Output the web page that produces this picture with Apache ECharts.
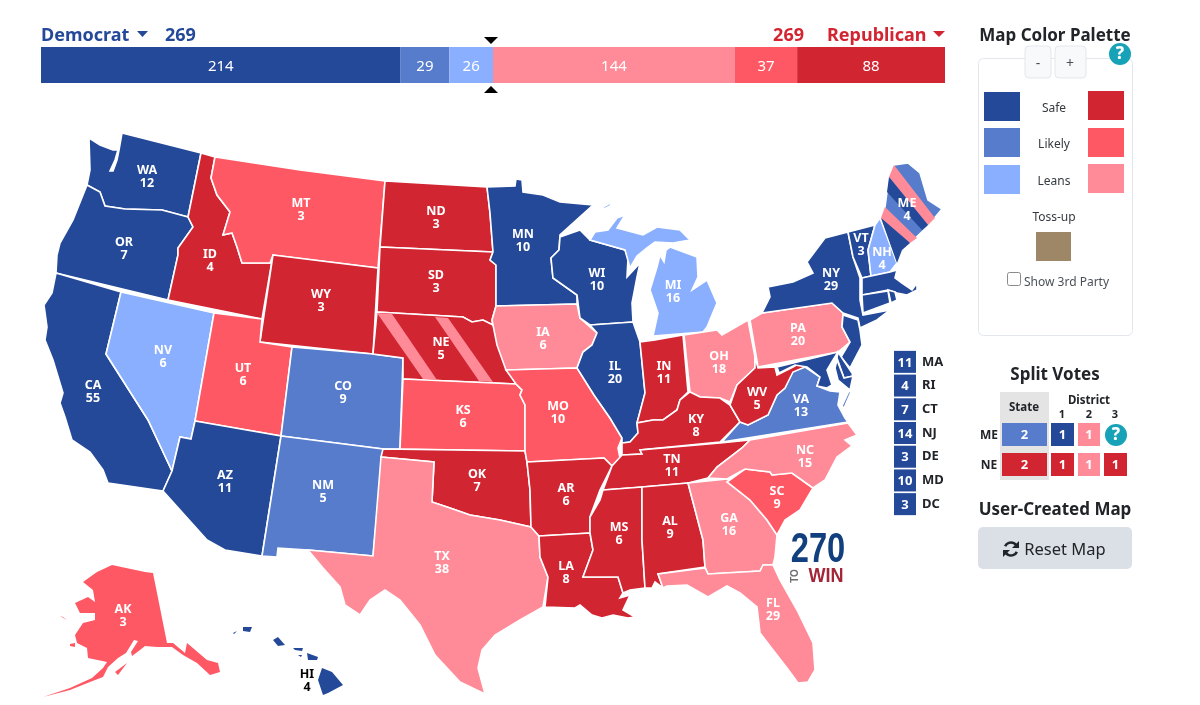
<!DOCTYPE html>
<html>
<head>
<meta charset="utf-8">
<title>270toWin map</title>
<script src="https://cdn.jsdelivr.net/npm/echarts@6/dist/echarts.min.js"></script>
<style>
  html, body { margin: 0; padding: 0; background: #fff; }
  #chart { width: 1200px; height: 705px; }
</style>
</head>
<body>
<div id="chart"></div>
<script>
// top bar
const barNames = ["Safe D", "Likely D", "Leans D", "Leans R", "Likely R", "Safe R"];
const barRatings = ["D3", "D2", "D1", "R1", "R2", "R3"];
const barValues = [214, 29, 26, 144, 37, 88];
const demTotal = 269;
const repTotal = 269;

// states
const stateCodes = ["WA","OR","CA","NV","ID","MT","WY","UT","AZ","CO","NM","ND","SD","NE","KS","OK","TX","MN","IA","MO","AR","LA","WI","IL","MI","IN","OH","KY","TN","MS","AL","GA","FL","SC","NC","VA","WV","PA","NY","VT","NH","ME","AK","HI","MA","RI","CT","NJ","DE","MD"];
const stateVotes = [12,7,55,6,4,3,3,6,11,9,5,3,3,5,6,7,38,10,6,10,6,8,10,20,16,11,18,8,11,6,9,16,29,9,15,13,5,20,29,3,4,4,3,4,11,4,7,14,3,10];
const stateRatings = ["D3","D3","D3","D1","R3","R2","R3","R2","D3","D2","D2","R3","R3","R3","R2","R3","R1","D3","R1","R2","R3","R3","D3","D3","D1","R3","R1","R3","R3","R3","R3","R1","R1","R2","R1","D2","R3","R1","D3","D3","D1","D2","R2","D3","D3","D3","D3","D3","D3","D3"];

// side list
const smallCodes = ["MA","RI","CT","NJ","DE","MD","DC"];
const smallVotes = [11,4,7,14,3,10,3];
const smallRatings = ["D3","D3","D3","D3","D3","D3","D3"];

// split votes
const splitMe = ["D2","D3","R1",null];
const splitMeVotes = [2,1,1,null];
const splitNe = ["R3","R3","R1","R3"];
const splitNeVotes = [2,1,1,1];

// district stripes over ME and NE
const stripeCodes = ["ME-a","ME-b","ME-c","ME-d","NE-a","NE-b"];
const stripeRatings = ["R1","D3","R1","D3","R1","R1"];

const colors = {
  D3: "#244999", D2: "#577ccc", D1: "#8aafff",
  R1: "#ff8b98", R2: "#ff5865", R3: "#d22532", T: "#9e8767",
};

// outlines, in page pixels
const shapes = {
  WA: [[[122,133],[201,153],[188,217],[162,210],[125,209],[105,206],[100,192],[87,185],[90,170],[89,138],[100,145],[113,150],[118,150],[115,160],[110,171],[113,171],[117,160],[119,150]]],
  OR: [[[87,185],[100,192],[105,206],[125,209],[162,210],[188,217],[193,227],[178,248],[178,255],[168,300],[56,273],[57,255],[60,243],[73,220]]],
  CA: [[[56,273],[121,292],[106,354],[148,420],[172,471],[163,491],[108,483],[103,470],[90,452],[72,440],[65,417],[60,403],[63,393],[53,360],[45,340],[47,327],[44,305],[52,293]]],
  NV: [[[121,292],[214,313],[195,421],[191,439],[180,437],[172,471],[148,420],[106,354]]],
  ID: [[[201,153],[215,157],[211,178],[217,195],[230,212],[223,235],[232,233],[237,247],[242,263],[270,263],[273,255],[262,319],[168,300],[178,255],[178,248],[193,227],[188,217]]],
  MT: [[[215,157],[300,170],[385,181],[378,268],[273,255],[270,263],[242,263],[237,247],[232,233],[223,235],[230,212],[217,195],[211,178]]],
  WY: [[[273,255],[378,268],[373,354],[260,342]]],
  UT: [[[214,313],[262,319],[260,342],[292,347],[281,436],[195,421]]],
  AZ: [[[195,421],[281,436],[262,556],[225,550],[207,540],[163,491],[172,471],[180,437],[191,439]]],
  CO: [[[292,347],[373,354],[403,358],[400,449],[383,449],[281,436]]],
  NM: [[[281,436],[383,449],[373,556],[308,550],[278,548],[277,557],[262,556]]],
  ND: [[[385,181],[487,187],[490,213],[493,252],[380,247]]],
  SD: [[[380,247],[493,252],[490,260],[496,265],[496,306],[492,320],[493,325],[483,320],[472,322],[463,317],[377,312]]],
  NE: [[[377,312],[463,317],[472,322],[483,320],[493,325],[503,350],[508,370],[516,384],[403,379],[403,358],[373,354]]],
  KS: [[[403,379],[516,384],[522,390],[520,395],[525,405],[525,451],[400,449]]],
  OK: [[[383,449],[525,451],[527,462],[530,490],[531,527],[500,520],[470,515],[450,508],[432,502],[434,462],[381,457]]],
  TX: [[[381,457],[434,462],[432,502],[450,508],[470,515],[500,520],[531,527],[539,536],[540,557],[548,577],[543,607],[520,620],[495,635],[482,650],[478,668],[485,694],[460,682],[435,655],[420,625],[400,600],[385,590],[370,600],[360,615],[345,605],[340,587],[323,568],[308,550],[373,556]]],
  MN: [[[487,187],[515,186],[516,179],[522,180],[523,192],[543,195],[560,202],[593,205],[560,235],[559,250],[551,258],[553,278],[577,295],[577,304],[496,306],[496,265],[490,260],[493,252],[490,213]]],
  IA: [[[496,306],[577,304],[580,318],[590,327],[597,333],[592,345],[583,352],[577,368],[506,370],[497,345],[493,325],[492,320]]],
  MO: [[[506,370],[577,368],[594,395],[610,418],[622,438],[618,448],[620,458],[612,466],[604,458],[527,462],[525,451],[525,405],[520,395],[522,390],[516,384]]],
  AR: [[[527,462],[604,458],[612,466],[600,490],[590,517],[590,533],[539,536],[531,527],[530,490]]],
  LA: [[[539,536],[590,533],[593,550],[583,577],[618,577],[623,593],[620,598],[630,595],[623,610],[635,617],[628,618],[613,615],[602,618],[592,615],[580,605],[575,608],[545,607],[548,577],[540,557]]],
  WI: [[[560,237],[580,230],[590,240],[625,250],[628,258],[627,277],[640,263],[637,277],[632,303],[633,322],[590,325],[580,318],[577,295],[553,278],[551,258],[559,250]]],
  IL: [[[590,325],[633,322],[640,342],[645,393],[637,423],[638,433],[630,442],[622,443],[622,438],[610,418],[594,395],[577,368],[583,352],[592,345],[597,333]]],
  MI: [[[590,240],[595,232],[608,230],[617,218],[625,215],[617,228],[643,235],[657,227],[680,230],[690,240],[673,243],[655,242],[647,248],[637,256],[630,268],[625,250]],
       [[670,247],[697,257],[698,277],[692,290],[707,280],[717,303],[707,327],[703,332],[653,336],[658,313],[650,290],[657,267],[660,255],[664,262],[666,250]],
       [[603,207],[612,202],[610,206],[604,209]]],
  IN: [[[640,342],[655,340],[683,335],[688,392],[680,400],[677,410],[663,420],[653,420],[637,423],[645,393]]],
  OH: [[[684,335],[717,330],[722,335],[748,320],[755,357],[755,368],[737,385],[730,402],[720,398],[700,397],[690,392]]],
  KY: [[[622,443],[630,442],[638,433],[637,423],[653,420],[663,420],[677,410],[680,400],[690,392],[700,397],[720,398],[730,405],[740,422],[720,442],[640,450],[642,454],[622,455]]],
  TN: [[[622,455],[642,454],[640,450],[720,443],[750,440],[742,448],[717,467],[708,478],[688,483],[642,487],[603,490],[612,466]]],
  MS: [[[603,490],[642,487],[642,540],[645,588],[630,590],[623,593],[618,577],[583,577],[593,550],[590,533],[590,517],[600,500]]],
  AL: [[[642,487],[688,483],[703,540],[705,567],[658,574],[663,588],[655,582],[652,588],[645,588],[642,540]]],
  GA: [[[688,483],[727,479],[750,500],[767,520],[777,535],[775,557],[773,565],[763,565],[760,571],[708,574],[705,567],[703,540]]],
  FL: [[[658,574],[705,568],[708,574],[760,571],[763,565],[773,565],[780,580],[797,610],[813,643],[815,670],[808,682],[798,683],[787,668],[773,650],[760,633],[757,607],[740,593],[727,586],[708,597],[687,585],[667,586],[663,588]]],
  SC: [[[727,482],[745,469],[770,472],[772,475],[792,473],[813,488],[800,510],[785,520],[777,535],[767,520],[750,500]]],
  NC: [[[750,440],[848,423],[857,435],[845,440],[852,446],[837,457],[825,480],[813,488],[792,473],[772,475],[770,472],[745,469],[727,479],[708,478],[717,467],[742,448]]],
  VA: [[[722,442],[740,422],[748,425],[768,415],[777,395],[785,388],[793,370],[805,367],[820,377],[817,386],[830,391],[840,392],[838,405],[845,418],[848,422]],
       [[849,391],[851,392],[844,408],[842,406]]],
  WV: [[[755,357],[758,368],[775,367],[777,375],[793,367],[800,363],[805,367],[793,372],[785,388],[777,395],[768,415],[748,425],[740,422],[730,405],[737,385],[755,368]]],
  PA: [[[762,313],[832,303],[843,313],[842,327],[850,342],[838,352],[758,367],[750,320]]],
  NY: [[[825,238],[848,232],[853,257],[860,278],[860,300],[863,315],[890,310],[877,320],[860,328],[858,318],[843,313],[832,303],[762,313],[770,297],[768,287],[793,282],[813,273],[807,262]]],
  VT: [[[848,232],[875,225],[868,250],[871,276],[862,278],[853,257]]],
  NH: [[[875,225],[880,218],[897,263],[890,272],[871,276],[868,250]]],
  ME: [[[894,165],[908,163],[920,173],[928,200],[942,209],[927,227],[910,243],[902,250],[897,263],[881,218],[885,207],[887,192],[889,177]]],
  AK: [[[112,565],[145,572],[153,573],[167,643],[173,643],[185,653],[187,643],[207,660],[218,663],[220,672],[210,675],[197,663],[183,655],[172,647],[157,647],[145,646],[140,650],[132,656],[131,652],[138,641],[134,640],[126,653],[118,658],[108,667],[103,677],[90,682],[70,690],[43,697],[70,688],[92,678],[103,668],[107,662],[88,658],[87,648],[77,643],[75,635],[83,623],[95,620],[95,613],[80,613],[75,603],[88,597],[95,602],[93,590],[83,582],[97,572]],
       [[115,672],[127,663],[118,675]],
       [[70,644],[75,643],[75,647],[70,646]],
       [[60,616],[67,620],[63,617]]],
  HI: [[[322,668],[332,672],[343,685],[328,693],[323,695],[318,680]],
       [[307,653],[318,657],[317,660],[308,660]],
       [[293,648],[303,648],[302,651],[295,650]],
       [[298,655],[302,655],[301,657]],
       [[278,637],[285,645],[278,646],[273,640]],
       [[243,627],[252,627],[250,632],[243,631]],
       [[233,633],[237,631],[234,634]]],
  MA: [[[862,278],[871,276],[890,272],[897,270],[895,278],[902,283],[912,290],[917,283],[917,290],[907,295],[897,293],[888,290],[862,295]],
       [[915,297],[920,296],[919,298]]],
  RI: [[[888,290],[895,292],[897,300],[891,303]]],
  CT: [[[862,295],[888,291],[890,303],[863,313]]],
  NJ: [[[843,315],[858,320],[860,330],[862,345],[850,368],[841,357],[850,342],[842,327]]],
  DE: [[[838,352],[852,373],[853,376],[844,378],[837,358]]],
  MD: [[[777,367],[838,352],[833,360],[827,370],[832,385],[827,388],[817,386],[820,377],[807,367],[795,365],[779,373]],
       [[837,360],[844,378],[853,376],[850,390],[838,380],[835,368]]],
  "ME-a": [[[894,165],[935,218],[928,225],[889,177]]],
  "ME-b": [[[889,177],[928,225],[922,230],[887,192]]],
  "ME-c": [[[885,207],[917,238],[910,243],[881,218]]],
  "ME-d": [[[881,218],[910,243],[902,250],[897,263]]],
  "NE-a": [[[377,313],[392,314],[437,380],[423,379]]],
  "NE-b": [[[435,317],[448,318],[493,382],[479,381]]],
};

// where the state label sits
const labelSpots = {
  WA:[147,177],OR:[124,249],CA:[93,392],NV:[163,357],ID:[210,261],MT:[301,210],WY:[321,301],UT:[243,375],AZ:[225,482],CO:[343,393],NM:[323,492],
  ND:[436,218],SD:[436,282],NE:[441,349],KS:[463,417],OK:[477,481],TX:[442,563],MN:[523,241],IA:[543,339],MO:[558,413],AR:[566,495],LA:[566,573],
  WI:[597,280],IL:[615,373],MI:[673,292],IN:[664,373],OH:[719,363],KY:[696,426],TN:[672,466],MS:[619,534],AL:[670,528],GA:[729,525],FL:[773,610],
  SC:[777,498],NC:[805,457],VA:[801,406],WV:[757,399],PA:[798,335],NY:[831,280],VT:[861,245],NH:[882,259],ME:[907,210],AK:[123,616],HI:[307,681],
};

// no neighbours, so their small islands can go without the white edge
const borderless = ["AK", "HI"];

const FONT = '"Noto Sans", sans-serif';

function buildGeoJson() {
  const features = [...stateCodes, ...stripeCodes].map((code) => {
    const spot = labelSpots[code];
    return {
      type: "Feature",
      properties: { name: code, cp: spot ? [spot[0], -spot[1]] : undefined },
      geometry: {
        type: "MultiPolygon",
        coordinates: shapes[code].map((ring) => [ring.map((p) => [p[0], -p[1]])]),
      },
    };
  });
  return { type: "FeatureCollection", features };
}

function buildMapData() {
  const data = stateCodes.map((code, i) => {
    const itemStyle = { areaColor: colors[stateRatings[i]] };
    if (borderless.includes(code)) itemStyle.borderWidth = 0;
    return {
      name: code,
      value: stateVotes[i],
      itemStyle,
      label: { show: !!labelSpots[code], color: code === "HI" ? "#000" : "#fff" },
    };
  });
  stripeCodes.forEach((code, i) => {
    data.push({
      name: code,
      value: 1,
      itemStyle: { areaColor: colors[stripeRatings[i]], borderWidth: 0 },
      label: { show: false },
    });
  });
  return data;
}

function text(str, x, y, size, weight, fill, align) {
  return {
    type: "text",
    style: {
      text: str, x, y: y + 1.5, fill,
      font: `${weight} ${size}px ${FONT}`,
      textAlign: align || "center",
      textVerticalAlign: "middle",
    },
  };
}

function box(x, y, w, h, fill, r, stroke) {
  return { type: "rect", shape: { x, y, width: w, height: h, r: r || 0 }, style: { fill, stroke: stroke || null } };
}

function help(x, y) {
  return [
    { type: "circle", shape: { cx: x, cy: y, r: 11 }, style: { fill: "#17a2b8" } },
    text("?", x, y - 1, 17, 800, "#fff"),
  ];
}

function tri(x0, x1, yBase, yTip, fill) {
  return { type: "polygon", shape: { points: [[x0, yBase], [x1, yBase], [(x0 + x1) / 2, yTip]] }, style: { fill } };
}

function voteCell(x, y, w, rating, votes) {
  return [box(x, y, w, 23, colors[rating]), text(String(votes), x + w / 2, y + 11, 13, 700, "#fff")];
}

function logoText(str, x, y, scaleX, font, fill, rotation) {
  return {
    type: "text", x, y, scaleX, rotation: rotation || 0,
    style: { text: str, x: 0, y: 0, fill, font, textAlign: "center", textVerticalAlign: "middle" },
  };
}

// the two-arrow reset glyph
function resetIcon(cx, cy) {
  const arc = (start, end) => ({
    type: "arc",
    shape: { cx, cy, r: 6.5, startAngle: start, endAngle: end },
    style: { fill: null, stroke: "#212529", lineWidth: 2.6 },
  });
  return [
    arc(-2.7, -0.2),
    arc(0.45, 2.95),
    { type: "polygon", shape: { points: [[cx + 8, cy - 8], [cx + 8, cy - 1], [cx + 1, cy - 1]] }, style: { fill: "#212529" } },
    { type: "polygon", shape: { points: [[cx - 8, cy + 8], [cx - 8, cy + 1], [cx - 1, cy + 1]] }, style: { fill: "#212529" } },
  ];
}

function sideGraphics() {
  const els = [
    // header
    text("Democrat", 41, 34, 18, 700, colors.D3, "left"),
    tri(137, 148, 31, 37, colors.D3),
    text(String(demTotal), 165, 34, 18, 700, colors.D3, "left"),
    text(String(repTotal), 804, 34, 18, 700, colors.R3, "right"),
    text("Republican", 827, 34, 18, 700, colors.R3, "left"),
    tri(933, 945, 31, 37, colors.R3),
    tri(484, 498, 37, 44, "#000"),
    tri(484, 498, 93, 86, "#000"),

    // palette panel
    text("Map Color Palette", 1055, 35, 17, 700, "#212529"),
    box(978.5, 58.5, 154, 277, "#fff", 5, "#e3e7ec"),
    box(1025, 46, 26, 32, "#f8f9fa", 4, "#e3e7ec"),
    box(1055, 46, 31, 32, "#f8f9fa", 4, "#e3e7ec"),
    text("-", 1038, 63, 14, 400, "#495057"),
    text("+", 1070, 63, 14, 400, "#495057"),
    ...help(1120, 54),
    box(984, 92, 36, 29, colors.D3),
    box(1088, 91, 36, 29, colors.R3),
    box(984, 128, 36, 29, colors.D2),
    box(1088, 128, 36, 29, colors.R2),
    box(984, 165, 36, 29, colors.D1),
    box(1088, 164, 36, 29, colors.R1),
    text("Safe", 1054, 107, 12, 400, "#343a40"),
    text("Likely", 1054, 143, 12, 400, "#343a40"),
    text("Leans", 1054, 180, 12, 400, "#343a40"),
    text("Toss-up", 1054, 216, 12, 400, "#343a40"),
    box(1036, 232, 35, 29, colors.T),
    box(1007.5, 272.5, 13, 13, "#fff", 2, "#8a8a8a"),
    text("Show 3rd Party", 1024, 281, 12, 400, "#495057", "left"),

    // split votes
    text("Split Votes", 1055, 374, 17, 700, "#212529"),
    box(1000, 392, 49, 88, "#e4e4e4"),
    text("State", 1024, 406, 11.5, 700, "#212529"),
    text("District", 1089, 399, 11.5, 700, "#212529"),
    text("1", 1062, 413, 11, 700, "#212529"),
    text("2", 1089, 413, 11, 700, "#212529"),
    text("3", 1115, 413, 11, 700, "#212529"),
    text("ME", 989, 434, 12, 700, "#212529"),
    text("NE", 989, 464, 12, 700, "#212529"),

    // reset
    text("User-Created Map", 1055, 509, 17, 700, "#212529"),
    box(978, 527, 154, 42, "#dae0e5", 5),
    ...resetIcon(1011, 549),
    text("Reset Map", 1065, 549, 16.5, 400, "#212529"),

    // logo
    logoText("270", 818, 550, 0.76, 'bold 43px "Liberation Sans", sans-serif', "#123f7d"),
    logoText("TO", 795, 576, 1, 'bold 10px "Liberation Sans", sans-serif', "#6d6e71", Math.PI / 2),
    logoText("WIN", 826, 576, 0.9, 'bold 20px "Liberation Sans", sans-serif', "#a32638"),
  ];

  const cellX = [1002, 1051, 1078, 1104];
  const cellW = [45, 23, 22, 23];
  splitMe.forEach((r, i) => {
    if (r) els.push(...voteCell(cellX[i], 423, cellW[i], r, splitMeVotes[i]));
  });
  splitNe.forEach((r, i) => {
    els.push(...voteCell(cellX[i], 453, cellW[i], r, splitNeVotes[i]));
  });
  els.push(...help(1116, 435));
  return els;
}

echarts.registerMap("usa", buildGeoJson());

const myChart = echarts.init(document.getElementById("chart"), null, { renderer: "canvas" });

const barSeries = barNames.map((name, i) => ({
  name,
  type: "bar",
  stack: "total",
  xAxisIndex: 0,
  yAxisIndex: 0,
  barWidth: "100%",
  silent: true,
  itemStyle: { color: colors[barRatings[i]] },
  label: { show: true, position: "inside", offset: [0, 1.5], color: "#fff", fontSize: 15, fontFamily: FONT },
  data: [barValues[i]],
}));

const option = {
  animation: false,
  backgroundColor: "#fff",
  textStyle: { fontFamily: FONT },
  grid: [
    { left: 41, top: 47, width: 904, height: 36 },
    { left: 894, top: 350, width: 22, height: 166 },
  ],
  xAxis: [
    { type: "value", gridIndex: 0, min: 0, max: 538, show: false },
    { type: "category", gridIndex: 1, data: ["votes"], show: false },
  ],
  yAxis: [
    { type: "category", gridIndex: 0, data: ["EV"], show: false },
    {
      type: "category",
      gridIndex: 1,
      inverse: true,
      position: "right",
      data: smallCodes,
      axisLine: { show: false },
      axisTick: { show: false },
      axisLabel: { margin: 6, fontSize: 13, fontWeight: 700, color: "#212529", fontFamily: FONT },
    },
  ],
  graphic: { elements: sideGraphics() },
  series: [
    ...barSeries,
    {
      type: "scatter",
      xAxisIndex: 1,
      yAxisIndex: 1,
      silent: true,
      symbol: "rect",
      symbolSize: [22, 22],
      label: { show: true, position: "inside", offset: [0, 1], color: "#fff", fontSize: 13, fontWeight: 700, fontFamily: FONT, formatter: (p) => p.value[2] },
      data: smallCodes.map((code, i) => ({
        value: ["votes", code, smallVotes[i]],
        itemStyle: { color: colors[smallRatings[i]], opacity: 1 },
      })),
    },
    {
      type: "map",
      map: "usa",
      silent: true,
      roam: false,
      aspectScale: 1,
      left: 0,
      top: 0,
      width: 1200,
      height: 705,
      boundingCoords: [[0, 0], [1200, -705]],
      selectedMode: false,
      itemStyle: { borderColor: "#fff", borderWidth: 1.6 },
      label: { show: true, fontSize: 12.5, fontWeight: 700, lineHeight: 13, fontFamily: FONT, formatter: "{b}\n{c}" },
      data: buildMapData(),
    },
  ],
};

myChart.setOption(option);
window.addEventListener("resize", () => {
  myChart.resize();
});
</script>
</body>
</html>
